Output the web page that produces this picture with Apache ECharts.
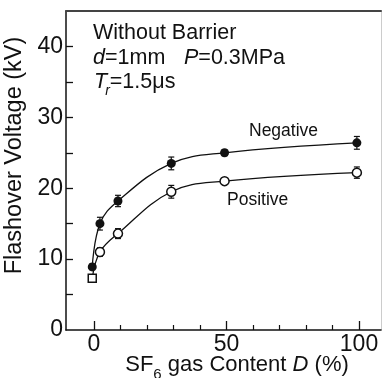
<!DOCTYPE html>
<html>
<head>
<meta charset="utf-8">
<script src="https://cdn.jsdelivr.net/npm/echarts@6/dist/echarts.min.js"></script>
<style>html,body{margin:0;padding:0;background:#fff;}#chart{width:382px;height:378px;}</style>
</head>
<body>
<div id="chart"></div>
<script>
// ---- data ----
const sf6Content = [-0.6, 2.3, 9.1, 29.2, 49.3, 99.2];           // D (%)
const negativeVoltage = [8.9, 15.0, 18.2, 23.5, 25.0, 26.4];     // kV
const positiveVoltage = [7.3, 11.0, 13.6, 19.5, 21.0, 22.2];     // kV
const negativeError = [0.4, 0.9, 0.8, 0.9, 0.4, 0.9];            // kV
const positiveError = [0.4, 0.6, 0.7, 0.9, 0.4, 0.8];            // kV
const xTickLabels = [0, 50, 100];
const xMajorTicks = [0, 50, 100];
const xMinorTicks = [10, 20, 30, 40, 60, 70, 80, 90];
const yTickLabels = [0, 10, 20, 30, 40];
const yTicks = [5, 10, 15, 20, 25, 30, 35, 40];

const FONT = '"Liberation Sans", Arial, Helvetica, sans-serif';
const INK = '#111';

const negData = sf6Content.map((x, i) => [x, negativeVoltage[i]]);
const posData = sf6Content.map((x, i) => i === 0
  ? { value: [x, positiveVoltage[i]], symbol: 'rect', symbolSize: 8 }
  : [x, positiveVoltage[i]]);
const negErr = sf6Content.map((x, i) => [x, negativeVoltage[i] - negativeError[i], negativeVoltage[i] + negativeError[i]]);
const posErr = sf6Content.map((x, i) => [x, positiveVoltage[i] - positiveError[i], positiveVoltage[i] + positiveError[i]]);

function errorBar(params, api) {
  const x = api.value(0);
  const p1 = api.coord([x, api.value(1)]);
  const p2 = api.coord([x, api.value(2)]);
  const w = 3;
  const st = { stroke: INK, lineWidth: 1.2 };
  return {
    type: 'group',
    children: [
      { type: 'line', shape: { x1: p1[0], y1: p1[1], x2: p2[0], y2: p2[1] }, style: st },
      { type: 'line', shape: { x1: p1[0] - w, y1: p1[1], x2: p1[0] + w, y2: p1[1] }, style: st },
      { type: 'line', shape: { x1: p2[0] - w, y1: p2[1], x2: p2[0] + w, y2: p2[1] }, style: st }
    ]
  };
}

const xMin = -10.5, xMax = 108.3;
const chart = echarts.init(document.getElementById('chart'), null, { renderer: 'canvas' });
chart.setOption({
  animation: false,
  backgroundColor: '#fff',
  grid: { left: 66, top: 11, right: 1, bottom: 48, containLabel: false, outerBoundsMode: 'none' },
  xAxis: [
    {
      type: 'value', min: xMin, max: xMax, position: 'bottom',
      axisLine: { show: true, onZero: false, lineStyle: { color: INK, width: 1.5 } },
      axisTick: { show: true, inside: true, length: 9, customValues: xMajorTicks, lineStyle: { color: INK, width: 1.3 } },
      axisLabel: { customValues: xTickLabels, margin: 3, fontSize: 23, color: INK, fontFamily: FONT },
      splitLine: { show: false },
      name: 'SF{sub|6} gas Content {i|D} (%)',
      nameLocation: 'middle',
      nameMoveOverlap: false,
      nameGap: 24,
      nameTextStyle: {
        fontSize: 22, color: INK, fontFamily: FONT, padding: [0, 0, 0, 27],
        rich: {
          sub: { fontSize: 15, color: INK, fontFamily: FONT, verticalAlign: 'bottom', padding: [0, 0, -6, 0] },
          i: { fontSize: 22, fontStyle: 'italic', color: INK, fontFamily: FONT }
        }
      }
    },
    {
      type: 'value', min: xMin, max: xMax, position: 'bottom',
      axisLine: { show: false, onZero: false },
      axisTick: { show: true, inside: true, length: 5, customValues: xMinorTicks, lineStyle: { color: INK, width: 1.2 } },
      axisLabel: { show: false },
      splitLine: { show: false }
    },
    {
      type: 'value', min: xMin, max: xMax, position: 'top',
      axisLine: { show: true, onZero: false, lineStyle: { color: '#444', width: 2 } },
      axisTick: { show: false }, axisLabel: { show: false }, splitLine: { show: false }
    }
  ],
  yAxis: [
    {
      type: 'value', min: 0, max: 45, position: 'left',
      axisLine: { show: true, onZero: false, lineStyle: { color: INK, width: 1.5 } },
      axisTick: { show: true, inside: true, length: 7, customValues: yTicks, lineStyle: { color: INK, width: 1.3 } },
      axisLabel: { customValues: yTickLabels, margin: 3, fontSize: 23, color: INK, fontFamily: FONT },
      splitLine: { show: false },
      name: 'Flashover Voltage (kV)',
      nameLocation: 'middle',
      nameGap: 31,
      nameTextStyle: { fontSize: 23.5, color: INK, fontFamily: FONT, padding: [0, 0, 0, 30] }
    },
    {
      type: 'value', min: 0, max: 45, position: 'right',
      axisLine: { show: true, onZero: false, lineStyle: { color: '#ccc', width: 1 } },
      axisTick: { show: false }, axisLabel: { show: false }, splitLine: { show: false }
    }
  ],
  series: [
    { type: 'custom', name: 'negErr', renderItem: errorBar, data: negErr, z: 2, encode: { x: 0, y: [1, 2] } },
    { type: 'custom', name: 'posErr', renderItem: errorBar, data: posErr, z: 2, encode: { x: 0, y: [1, 2] } },
    {
      type: 'line', name: 'Negative', data: negData, smooth: 0.4,
      symbol: 'circle', symbolSize: 9, showAllSymbol: true, z: 3,
      lineStyle: { color: INK, width: 1.3 },
      itemStyle: { color: INK, borderColor: INK, borderWidth: 0 }
    },
    {
      type: 'line', name: 'Positive', data: posData, smooth: 0.4,
      symbol: 'circle', symbolSize: 9, showAllSymbol: true, z: 3,
      lineStyle: { color: INK, width: 1.3 },
      itemStyle: { color: '#fff', borderColor: INK, borderWidth: 1.5 }
    }
  ],
  graphic: [
    { type: 'text', x: 93, y: 33.5, style: { text: 'Without Barrier', font: '21.5px ' + FONT, fill: INK, verticalAlign: 'middle' } },
    { type: 'text', x: 93, y: 58.3, style: { text: '{i|d}=1mm', fill: INK, font: '21.5px ' + FONT, verticalAlign: 'middle',
        rich: { i: { fontStyle: 'italic', fontSize: 21.5, fontFamily: FONT, fill: INK } } } },
    { type: 'text', x: 184, y: 58.3, style: { text: '{i|P}=0.3MPa', fill: INK, font: '21.5px ' + FONT, verticalAlign: 'middle',
        rich: { i: { fontStyle: 'italic', fontSize: 21.5, fontFamily: FONT, fill: INK } } } },
    { type: 'text', x: 94, y: 82, style: { text: '{i|T}{s|r}=1.5μs', fill: INK, font: '21.5px ' + FONT, verticalAlign: 'middle',
        rich: {
          i: { fontStyle: 'italic', fontSize: 21.5, fontFamily: FONT, fill: INK },
          s: { fontStyle: 'italic', fontSize: 14, fontFamily: FONT, fill: INK, verticalAlign: 'bottom', padding: [0, 0, -5, -2] }
        } } },
    { type: 'text', x: 249, y: 131, style: { text: 'Negative', font: '17.5px ' + FONT, fill: INK, verticalAlign: 'middle' } },
    { type: 'text', x: 227, y: 200.5, style: { text: 'Positive', font: '17.5px ' + FONT, fill: INK, verticalAlign: 'middle' } }
  ]
});
</script>
</body>
</html>
